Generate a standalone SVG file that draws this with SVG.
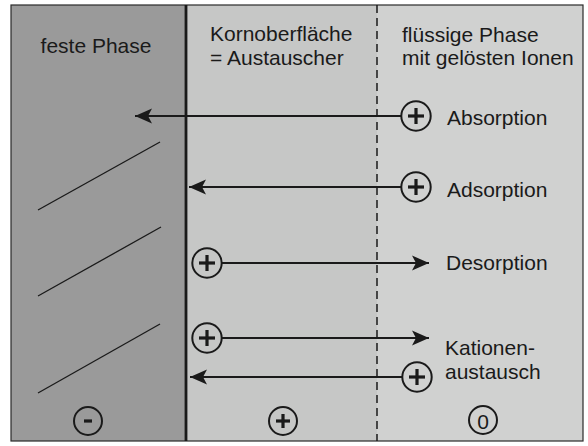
<svg xmlns="http://www.w3.org/2000/svg" width="588" height="446" viewBox="0 0 588 446">
  <style>
    .lbl { font-family: "Liberation Sans", Arial, sans-serif; font-size: 21px; fill: #1a1a1a; }
    .conn { stroke: #1a1a1a; stroke-width: 1.8; fill: none; }
    .ion { fill: none; stroke: #1a1a1a; stroke-width: 2; }
    .sign { stroke: #1a1a1a; stroke-width: 3.2; stroke-linecap: butt; }
    .hatch { stroke: #1a1a1a; stroke-width: 1.3; }
  </style>
  <defs>
    <marker id="head" markerUnits="userSpaceOnUse" markerWidth="20" markerHeight="16" viewBox="-17 -8 18 16" refX="0" refY="0" orient="auto">
      <path d="M0,0 L-17,-7.5 L-13,0 L-17,7.5 Z" fill="#1a1a1a"/>
    </marker>
    <g id="plus">
      <circle r="14.7" class="ion"/>
      <line x1="-8" y1="0" x2="8" y2="0" class="sign"/>
      <line x1="0" y1="-8" x2="0" y2="8" class="sign"/>
    </g>
  </defs>

  <!-- phase zones -->
  <rect x="11" y="5" width="175" height="436" fill="#9a9a9a"/>
  <rect x="186" y="5" width="191" height="436" fill="#c6c7c6"/>
  <rect x="377" y="5" width="206" height="436" fill="#d0d1d0"/>
  <rect x="11" y="5" width="572" height="436" fill="none" stroke="#2a2a2a" stroke-width="1.2"/>
  <line x1="186" y1="5" x2="186" y2="441" stroke="#1a1a1a" stroke-width="2.8"/>
  <line x1="377" y1="5" x2="377" y2="441" stroke="#1a1a1a" stroke-width="1.5" stroke-dasharray="8 5"/>

  <!-- hatching of the solid phase -->
  <g id="hatching">
    <line x1="38" y1="210" x2="160" y2="142" class="hatch"/>
    <line x1="38" y1="296" x2="161" y2="227" class="hatch"/>
    <line x1="38" y1="393" x2="160" y2="324" class="hatch"/>
  </g>

  <!-- zone headings -->
  <g id="head-solid">
    <text x="96" y="53" class="lbl" text-anchor="middle">feste Phase</text>
  </g>
  <g id="head-surface">
    <text x="210" y="41" class="lbl">Kornoberfläche</text>
    <text x="210" y="65" class="lbl">= Austauscher</text>
  </g>
  <g id="head-liquid">
    <text x="402" y="42" class="lbl">flüssige Phase</text>
    <text x="402" y="65" class="lbl">mit gelösten Ionen</text>
  </g>

  <!-- connectors -->
  <g id="connectors">
    <line x1="401" y1="116" x2="135" y2="116" class="conn" marker-end="url(#head)"/>
    <line x1="401" y1="187" x2="189" y2="187" class="conn" marker-end="url(#head)"/>
    <line x1="222" y1="263" x2="429" y2="263" class="conn" marker-end="url(#head)"/>
    <line x1="222" y1="338" x2="429" y2="338" class="conn" marker-end="url(#head)"/>
    <line x1="402" y1="377" x2="190" y2="377" class="conn" marker-end="url(#head)"/>
  </g>

  <!-- processes -->
  <g id="absorption">
    <use href="#plus" x="416" y="116"/>
    <text x="447" y="125" class="lbl">Absorption</text>
  </g>
  <g id="adsorption">
    <use href="#plus" x="416" y="187"/>
    <text x="447" y="197" class="lbl">Adsorption</text>
  </g>
  <g id="desorption">
    <use href="#plus" x="207" y="263"/>
    <text x="446" y="270" class="lbl">Desorption</text>
  </g>
  <g id="kationenaustausch">
    <use href="#plus" x="207" y="338"/>
    <use href="#plus" x="417" y="377"/>
    <text x="445" y="355" class="lbl">Kationen-</text>
    <text x="445" y="379" class="lbl">austausch</text>
  </g>

  <!-- zone charges -->
  <g id="charge-solid">
    <circle cx="88" cy="421" r="14" class="ion"/>
    <line x1="84" y1="421" x2="92" y2="421" class="sign"/>
  </g>
  <g id="charge-surface">
    <circle cx="283" cy="421" r="14" class="ion"/>
    <line x1="276" y1="421" x2="290" y2="421" class="sign" stroke-width="2.8"/>
    <line x1="283" y1="414" x2="283" y2="428" class="sign" stroke-width="2.8"/>
  </g>
  <g id="charge-liquid">
    <circle cx="483" cy="420" r="14" class="ion"/>
    <text x="483" y="429" class="lbl" text-anchor="middle" font-size="25">0</text>
  </g>
</svg>
